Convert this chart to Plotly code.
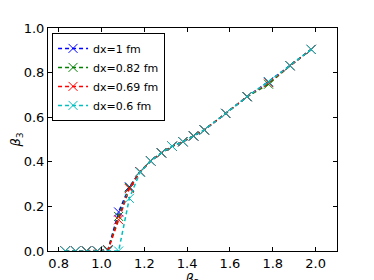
import plotly.graph_objects as go

beta2 = [0.83, 0.88, 0.93, 0.98, 1.03, 1.08, 1.13, 1.18, 1.23, 1.28, 1.33, 1.38, 1.43, 1.48, 1.58, 1.68, 1.78, 1.88, 1.98]
b3_dx1 = [0.0, 0.0, 0.0, 0.0, 0.005, 0.175, 0.288, 0.355, 0.404, 0.44, 0.47, 0.49, 0.516, 0.543, 0.617, 0.692, 0.759, 0.831, 0.904]
b3_dx082 = [0.0, 0.0, 0.0, 0.0, 0.005, 0.155, 0.285, 0.355, 0.404, 0.44, 0.47, 0.49, 0.516, 0.543, 0.617, 0.692, 0.748, 0.831, 0.904]
b3_dx069 = [0.0, 0.0, 0.0, 0.0, 0.003, 0.14, 0.28, 0.355, 0.404, 0.44, 0.47, 0.49, 0.516, 0.543, 0.617, 0.692, 0.755, 0.831, 0.904]
b3_dx06 = [0.0, 0.0, 0.0, 0.0, 0.0, 0.0, 0.236, 0.353, 0.404, 0.44, 0.47, 0.49, 0.516, 0.543, 0.617, 0.692, 0.759, 0.831, 0.904]

names = ["dx=1 fm", "dx=0.82 fm", "dx=0.69 fm", "dx=0.6 fm"]
series = [b3_dx1, b3_dx082, b3_dx069, b3_dx06]
colors = ["#0000ff", "#008000", "#ff0000", "#00bfbf"]

x_ticks = [0.8, 1.0, 1.2, 1.4, 1.6, 1.8, 2.0]
y_ticks = [0.0, 0.2, 0.4, 0.6, 0.8, 1.0]

fig = go.Figure()
for name, ys, c in zip(names, series, colors):
    fig.add_trace(go.Scatter(
        x=beta2, y=ys, name=name, mode="lines+markers",
        line=dict(color=c, width=1.5, dash="4px,3px"),
        marker=dict(symbol="x-thin", size=9, line=dict(color=c, width=1)),
        cliponaxis=True,
    ))

axis_common = dict(
    showline=True, linecolor="black", linewidth=1, mirror="ticks",
    ticks="inside", ticklen=4, tickcolor="black", showgrid=False, zeroline=False,
    automargin=False,
    tickfont=dict(family="DejaVu Sans", size=13, color="black"),
)
fig.update_xaxes(range=[0.75, 2.1], tickvals=x_ticks, ticktext=["0.8", "1.0", "1.2", "1.4", "1.6", "1.8", "2.0"],
                 title=dict(text="<i>β</i><sub>2</sub>", font=dict(family="DejaVu Sans", size=13, color="black")),
                 **axis_common)
fig.update_yaxes(range=[0, 1.0], tickvals=y_ticks, ticktext=["0.0", "0.2", "0.4", "0.6", "0.8", "1.0"],
                 title=dict(text="<i>β</i><sub>3</sub>", font=dict(family="DejaVu Sans", size=13, color="black")),
                 **axis_common)

fig.update_layout(
    width=374, height=280,
    margin=dict(l=40, r=45, t=20, b=37),
    paper_bgcolor="white", plot_bgcolor="white",
    showlegend=True,
    legend=dict(x=0.014, y=0.978, xanchor="left", yanchor="top",
                bordercolor="black", borderwidth=1, bgcolor="white",
                font=dict(family="DejaVu Sans", size=11, color="black"),
                tracegroupgap=0, itemwidth=30),
)

fig.write_html("out.html")
